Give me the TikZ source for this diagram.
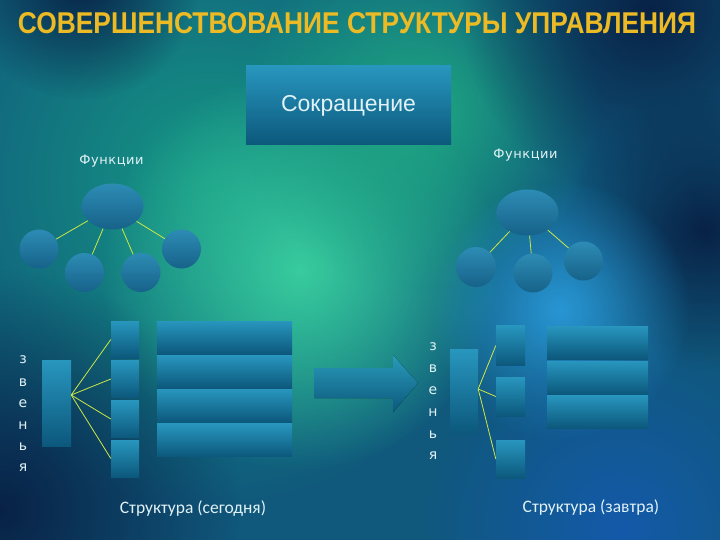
\documentclass[tikz,border=0pt]{standalone}
\usepackage{fontspec}
\usepackage{graphicx}
\usetikzlibrary{positioning, shapes.geometric, fadings}
\newfontfamily\titlefont{Liberation Sans}
\newfontfamily\boxfont{Liberation Sans}
\newfontfamily\funcfont[LetterSpace=4]{DejaVu Sans}
\newfontfamily\letterfont{DejaVu Sans}
\newfontfamily\capfont{Carlito}
\definecolor{BgBase}{RGB}{16, 88, 124}
\definecolor{BgTealwide}{RGB}{22, 150, 132}
\definecolor{BgGreen}{RGB}{56, 204, 158}
\definecolor{BgTeal}{RGB}{30, 168, 130}
\definecolor{BgBlue}{RGB}{40, 150, 212}
\definecolor{BgDeep}{RGB}{20, 90, 170}
\definecolor{BgNavy}{RGB}{8, 34, 70}
\definecolor{TitleGold}{RGB}{236, 186, 36}
\definecolor{PlateTop}{RGB}{40, 150, 190}
\definecolor{PlateBot}{RGB}{12, 88, 124}
\definecolor{BallTop}{RGB}{45, 140, 180}
\definecolor{BallBot}{RGB}{22, 98, 138}
\definecolor{LinkYellow}{RGB}{205, 232, 70}
\definecolor{SoftWhite}{RGB}{225, 242, 246}
\tikzfading[name=blobfade, inner color=transparent!0, outer color=transparent!100]
\tikzset{
  plate/.style={rectangle, inner sep=0pt, top color=PlateTop, bottom color=PlateBot},
  funcball/.style={circle, inner sep=0pt, minimum size=39pt, top color=BallTop, bottom color=BallBot},
  funchead/.style={ellipse, inner sep=0pt, minimum width=62pt, minimum height=46pt, top color=BallTop, bottom color=BallBot},
  link/.style={draw=LinkYellow, line width=0.8pt},
  blob/.style={fill=#1, path fading=blobfade},
  vletter/.style={text=SoftWhite, font=\letterfont\fontsize{14}{14}\selectfont, inner sep=0pt},
  funclabel/.style={text=SoftWhite, font=\funcfont\fontsize{13}{13}\selectfont},
  caption/.style={text=SoftWhite, font=\capfont\fontsize{17.5}{17.5}\selectfont}
}
\begin{document}
\begin{tikzpicture}[x=1pt, y=-1pt]
\useasboundingbox (0,0) rectangle (720,540);
% background
\fill[BgBase] (0,0) rectangle (720,540);
\fill[blob=BgTealwide] (210,180) circle (330);
\fill[blob=BgGreen] (300,270) circle (200);
\fill[blob=BgTeal] (420,110) circle (180);
\fill[blob=BgNavy] (80,-20) circle (120);
\fill[blob=BgNavy] (650,10) circle (190);
\fill[blob=BgNavy] (705,230) circle (140);
\fill[blob=BgBlue] (560,310) circle (130);
\fill[blob=BgNavy] (0,510) circle (240);
\fill[blob=BgDeep] (620,530) circle (200);

% title
\node[text=TitleGold, font=\titlefont\bfseries, inner sep=0pt] (title) at (357,23)
  {\resizebox{678pt}{21pt}{СОВЕРШЕНСТВОВАНИЕ СТРУКТУРЫ УПРАВЛЕНИЯ}};

% reduction box
\node[plate, minimum width=205pt, minimum height=79pt, text=SoftWhite,
  font=\boxfont\fontsize{23}{23}\selectfont] (cut) at (348.5,105.5) {Сокращение};

% functions today
\node[funclabel] (fnl) at (111.5,161) {Функции};
\node[funchead] (ltop) at (112.5,206.5) {};
\node[funcball] (lf1) at (39,249) {};
\node[funcball] (lf2) at (84.5,272.5) {};
\node[funcball] (lf3) at (141,272.5) {};
\node[funcball] (lf4) at (181.5,249) {};
\foreach \k in {1,...,4}
  \draw[link] (ltop) -- (lf\k);

% functions tomorrow
\node[funclabel] (fnr) at (525.5,155) {Функции};
\node[funchead] (rtop) at (527.5,212.5) {};
\node[funcball, minimum size=40pt] (rf1) at (476,267) {};
\node[funcball] (rf2) at (533,273) {};
\node[funcball] (rf3) at (583.5,261) {};
\foreach \k in {1,...,3}
  \draw[link] (rtop) -- (rf\k);

% structure today
\foreach \ch/\yy in {з/360, в/383, е/404, н/426, ь/447, я/468}
  \node[vletter] (lt\ch) at (23,\yy) {\ch};
\node[plate, minimum width=29pt, minimum height=86pt] (lz) at (56.5,403) {};
\foreach \yy [count=\k] in {339.5, 379, 419, 458.5}
  \node[plate, minimum width=28pt, minimum height=37pt] (lb\k) at (125,\yy) {};
\foreach \yy [count=\k] in {337.5, 371.5, 405.5, 440}
  \node[plate, minimum width=135pt, minimum height=33pt] (lw\k) at (224.5,\yy) {};
\coordinate (lhub) at ([yshift=8pt]lz.east);
\foreach \k in {1,...,4}
  \draw[link] (lhub) -- (lb\k.west);
\node[caption] (capl) at (193,509) {Структура (сегодня)};

% arrow
\fill[top color=PlateTop!90!BgGreen, bottom color=PlateBot] (314,368) -- (393,368) -- (393,355)
  -- (418,383) -- (393,412) -- (393,398) -- (314,398) -- cycle;

% structure tomorrow
\foreach \ch/\yy in {з/347, в/369, е/391, н/413, ь/435, я/456}
  \node[vletter] (rt\ch) at (433,\yy) {\ch};
\node[plate, minimum width=28pt, minimum height=85pt] (rz) at (464,391.5) {};
\foreach \yy/\hh [count=\k] in {345.5/40, 396.5/39, 459/38}
  \node[plate, minimum width=29pt, minimum height=\hh pt] (rb\k) at (510.5,\yy) {};
\foreach \yy [count=\k] in {342.5, 377.5, 411.5}
  \node[plate, minimum width=101pt, minimum height=33pt] (rw\k) at (597.5,\yy) {};
\coordinate (rhub) at ([yshift=2.5pt]rz.east);
\foreach \k in {1,...,3}
  \draw[link] (rhub) -- (rb\k.west);
\node[caption] (capr) at (591,508) {Структура (завтра)};
\end{tikzpicture}
\end{document}
